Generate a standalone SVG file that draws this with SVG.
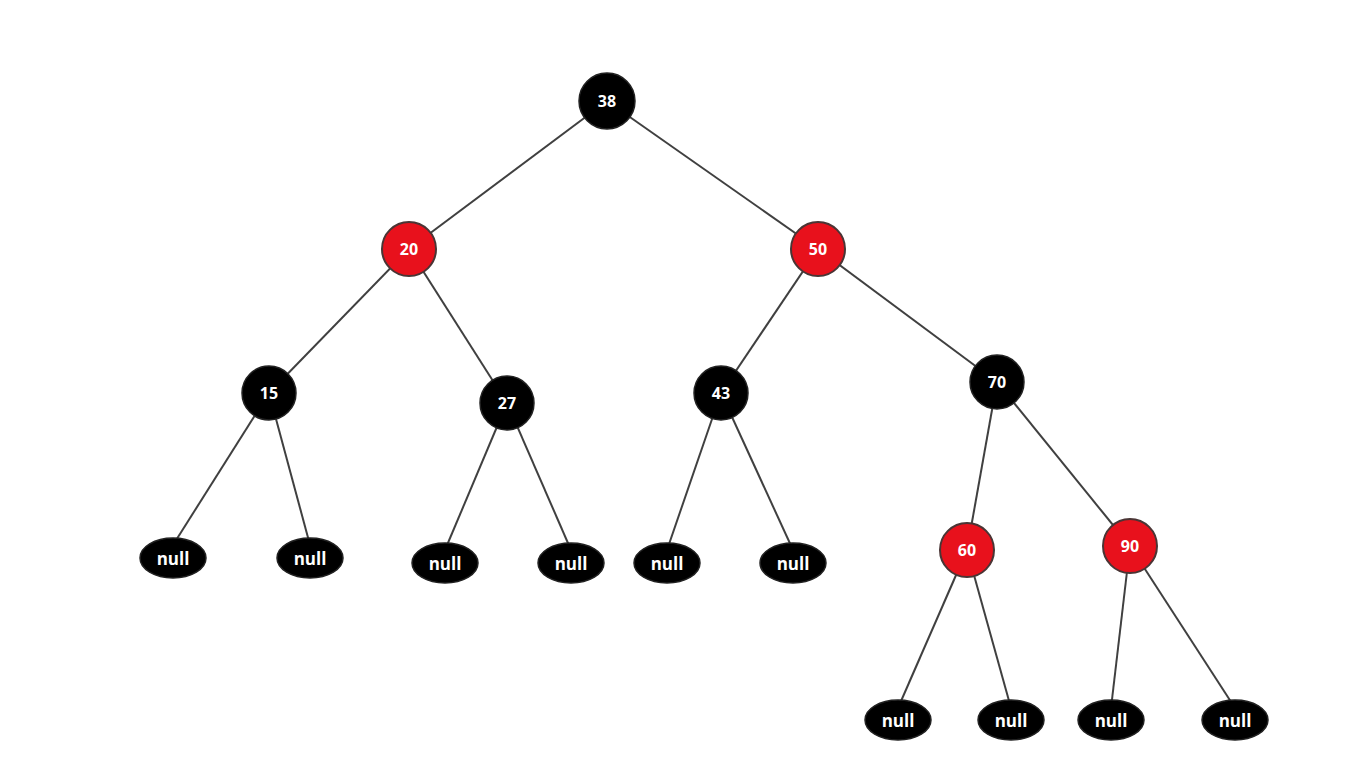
<svg xmlns="http://www.w3.org/2000/svg" width="1362" height="780" viewBox="0 0 1362 780">
<style>
.e{stroke:#404040;stroke-width:2;fill:none}
.b{fill:#000;stroke:#222;stroke-width:1.5}
.r{fill:#e8111c;stroke:#4a3535;stroke-width:2}
.t{fill:#fff;font-family:"Open Sans","DejaVu Sans",sans-serif;font-weight:bold;font-size:16px;text-anchor:middle;dominant-baseline:central}
.n{fill:#fff;font-family:"Open Sans","DejaVu Sans",sans-serif;font-weight:bold;font-size:17px;text-anchor:middle;dominant-baseline:central}
</style>
<rect width="1362" height="780" fill="#fff"/>
<g id="connectors">
<line class="e" x1="607" y1="101" x2="409" y2="249"/>
<line class="e" x1="607" y1="101" x2="818" y2="249"/>
<line class="e" x1="409" y1="249" x2="269" y2="393"/>
<line class="e" x1="409" y1="249" x2="507" y2="403"/>
<line class="e" x1="818" y1="249" x2="721" y2="393"/>
<line class="e" x1="818" y1="249" x2="997" y2="382"/>
<line class="e" x1="269" y1="393" x2="173" y2="545"/>
<line class="e" x1="269" y1="393" x2="310" y2="545"/>
<line class="e" x1="507" y1="403" x2="445" y2="550"/>
<line class="e" x1="507" y1="403" x2="571" y2="550"/>
<line class="e" x1="721" y1="393" x2="667" y2="550"/>
<line class="e" x1="721" y1="393" x2="793" y2="550"/>
<line class="e" x1="997" y1="382" x2="967" y2="550"/>
<line class="e" x1="997" y1="382" x2="1130" y2="546"/>
<line class="e" x1="967" y1="550" x2="898" y2="708"/>
<line class="e" x1="967" y1="550" x2="1011" y2="708"/>
<line class="e" x1="1130" y1="546" x2="1111" y2="708"/>
<line class="e" x1="1130" y1="546" x2="1235" y2="708"/>
</g>
<g id="n38"><circle class="b" cx="607" cy="101" r="28"/><text class="t" x="607" y="101">38</text></g>
<g id="n20"><circle class="r" cx="409" cy="249" r="27"/><text class="t" x="409" y="249">20</text></g>
<g id="n50"><circle class="r" cx="818" cy="249" r="27"/><text class="t" x="818" y="249">50</text></g>
<g id="n15"><circle class="b" cx="269" cy="393" r="27"/><text class="t" x="269" y="393">15</text></g>
<g id="n27"><circle class="b" cx="507" cy="403" r="27"/><text class="t" x="507" y="403">27</text></g>
<g id="n43"><circle class="b" cx="721" cy="393" r="27"/><text class="t" x="721" y="393">43</text></g>
<g id="n70"><circle class="b" cx="997" cy="382" r="27"/><text class="t" x="997" y="382">70</text></g>
<g id="n60"><circle class="r" cx="967" cy="550" r="27"/><text class="t" x="967" y="550">60</text></g>
<g id="n90"><circle class="r" cx="1130" cy="546" r="27"/><text class="t" x="1130" y="546">90</text></g>
<g id="null1"><ellipse class="b" cx="173" cy="558" rx="33" ry="20"/><text class="n" x="173" y="558">null</text></g>
<g id="null2"><ellipse class="b" cx="310" cy="558" rx="33" ry="20"/><text class="n" x="310" y="558">null</text></g>
<g id="null3"><ellipse class="b" cx="445" cy="563" rx="33" ry="20"/><text class="n" x="445" y="563">null</text></g>
<g id="null4"><ellipse class="b" cx="571" cy="563" rx="33" ry="20"/><text class="n" x="571" y="563">null</text></g>
<g id="null5"><ellipse class="b" cx="667" cy="563" rx="33" ry="20"/><text class="n" x="667" y="563">null</text></g>
<g id="null6"><ellipse class="b" cx="793" cy="563" rx="33" ry="20"/><text class="n" x="793" y="563">null</text></g>
<g id="null7"><ellipse class="b" cx="898" cy="720" rx="33" ry="20"/><text class="n" x="898" y="720">null</text></g>
<g id="null8"><ellipse class="b" cx="1011" cy="720" rx="33" ry="20"/><text class="n" x="1011" y="720">null</text></g>
<g id="null9"><ellipse class="b" cx="1111" cy="720" rx="33" ry="20"/><text class="n" x="1111" y="720">null</text></g>
<g id="null10"><ellipse class="b" cx="1235" cy="720" rx="33" ry="20"/><text class="n" x="1235" y="720">null</text></g>
</svg>
